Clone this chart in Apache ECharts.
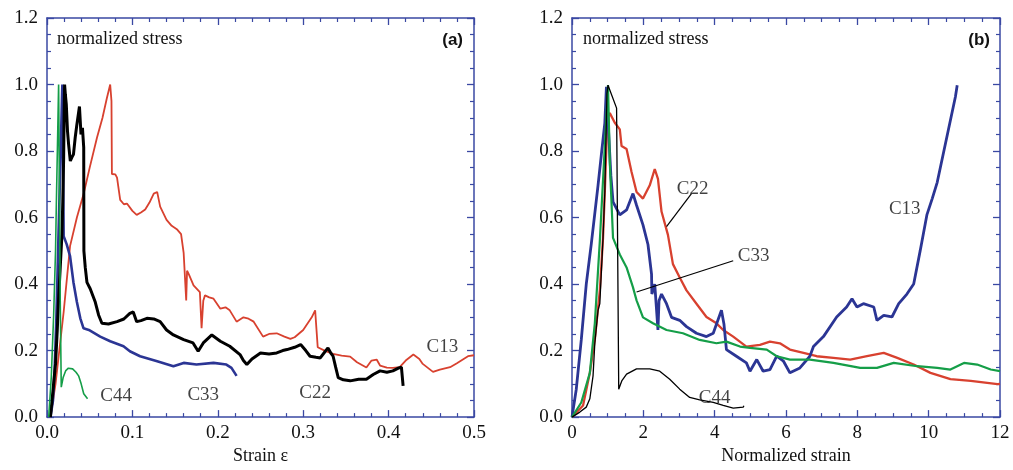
<!DOCTYPE html>
<html><head><meta charset="utf-8">
<script src="https://cdn.jsdelivr.net/npm/echarts@6/dist/echarts.min.js"></script>
<style>html,body{margin:0;padding:0;background:#fff}#c{width:1013px;height:470px}</style>
</head><body><div id="c"></div>
<script>
// ---------- Panel (a): stress vs strain ----------
const aC13 = [[0.004,0],[0.01,0.1],[0.0195,0.316],[0.027,0.514],[0.035,0.6],[0.043,0.672],[0.05,0.75],[0.0585,0.84],[0.065,0.9],[0.07,0.958],[0.074,1.0],[0.0755,0.95],[0.076,0.731],[0.08,0.73],[0.082,0.72],[0.0857,0.653],[0.09,0.64],[0.0936,0.642],[0.1,0.62],[0.105,0.608],[0.11,0.615],[0.115,0.624],[0.12,0.645],[0.125,0.672],[0.129,0.677],[0.1325,0.633],[0.14,0.593],[0.146,0.575],[0.152,0.565],[0.157,0.55],[0.16,0.494],[0.162,0.49],[0.163,0.351],[0.164,0.44],[0.166,0.43],[0.1716,0.396],[0.179,0.376],[0.181,0.267],[0.183,0.35],[0.185,0.366],[0.19,0.36],[0.195,0.356],[0.203,0.326],[0.209,0.33],[0.214,0.321],[0.222,0.287],[0.23,0.30],[0.236,0.296],[0.242,0.287],[0.253,0.242],[0.26,0.25],[0.269,0.252],[0.278,0.242],[0.285,0.235],[0.29,0.24],[0.30,0.262],[0.31,0.3],[0.314,0.321],[0.316,0.316],[0.317,0.21],[0.325,0.2],[0.335,0.19],[0.345,0.185],[0.355,0.182],[0.363,0.165],[0.374,0.149],[0.38,0.17],[0.386,0.173],[0.39,0.155],[0.398,0.149],[0.405,0.148],[0.413,0.15],[0.42,0.17],[0.429,0.188],[0.436,0.175],[0.44,0.16],[0.452,0.136],[0.46,0.143],[0.472,0.15],[0.48,0.162],[0.493,0.183],[0.5,0.186]];
const aC22 = [[0.004,0],[0.007,0.08],[0.01,0.16],[0.012,0.26],[0.0136,0.357],[0.0155,0.45],[0.0175,0.55],[0.0185,0.65],[0.0195,0.78],[0.02,0.9],[0.0206,1.0],[0.0215,0.97],[0.0226,0.94],[0.024,0.86],[0.0253,0.82],[0.0273,0.77],[0.029,0.78],[0.031,0.79],[0.033,0.84],[0.035,0.88],[0.038,0.934],[0.0398,0.85],[0.0415,0.87],[0.0428,0.875],[0.043,0.81],[0.0432,0.5],[0.0448,0.45],[0.0468,0.405],[0.0506,0.386],[0.0565,0.346],[0.0604,0.307],[0.0643,0.282],[0.072,0.28],[0.082,0.287],[0.09,0.295],[0.097,0.312],[0.101,0.316],[0.105,0.287],[0.11,0.29],[0.117,0.297],[0.125,0.295],[0.1325,0.287],[0.14,0.262],[0.148,0.247],[0.16,0.233],[0.171,0.223],[0.177,0.198],[0.179,0.194],[0.183,0.223],[0.193,0.247],[0.203,0.228],[0.214,0.213],[0.226,0.188],[0.23,0.17],[0.234,0.158],[0.24,0.175],[0.25,0.193],[0.26,0.19],[0.269,0.193],[0.276,0.2],[0.281,0.203],[0.29,0.21],[0.297,0.218],[0.303,0.2],[0.308,0.183],[0.315,0.18],[0.32,0.178],[0.325,0.195],[0.329,0.208],[0.333,0.19],[0.335,0.183],[0.338,0.15],[0.341,0.119],[0.347,0.112],[0.355,0.109],[0.365,0.114],[0.374,0.114],[0.382,0.128],[0.39,0.139],[0.398,0.135],[0.405,0.139],[0.412,0.148],[0.415,0.15],[0.417,0.094]];
const aC33 = [[0.004,0],[0.007,0.05],[0.009,0.15],[0.011,0.3],[0.013,0.5],[0.015,0.7],[0.0165,0.85],[0.0175,0.95],[0.018,1.0],[0.0188,0.8],[0.0195,0.544],[0.023,0.52],[0.027,0.484],[0.031,0.405],[0.035,0.346],[0.039,0.297],[0.0428,0.267],[0.049,0.262],[0.0623,0.242],[0.074,0.228],[0.0896,0.213],[0.097,0.198],[0.109,0.183],[0.129,0.168],[0.148,0.153],[0.16,0.163],[0.175,0.158],[0.195,0.163],[0.21,0.158],[0.216,0.148],[0.222,0.124]];
const aC44 = [[0.002,0],[0.005,0.12],[0.0078,0.307],[0.01,0.5],[0.011,0.65],[0.0125,0.85],[0.0136,1.0],[0.0145,0.7],[0.0155,0.35],[0.0167,0.09],[0.019,0.12],[0.022,0.14],[0.025,0.147],[0.03,0.145],[0.034,0.135],[0.037,0.124],[0.04,0.1],[0.043,0.07],[0.0475,0.055]];
const aLabels = [['C44',0.081,0.064],['C33',0.183,0.066],['C22',0.314,0.072],['C13',0.463,0.212]];

// ---------- Panel (b): stress vs normalized strain ----------
const bC13 = [[0,0],[0.12,0.084],[0.26,0.232],[0.4,0.4],[0.54,0.52],[0.73,0.697],[0.82,0.786],[0.92,0.884],[0.965,0.993],[1.03,0.85],[1.09,0.726],[1.15,0.647],[1.34,0.608],[1.53,0.623],[1.71,0.672],[1.81,0.637],[1.99,0.578],[2.13,0.519],[2.23,0.43],[2.24,0.37],[2.32,0.40],[2.41,0.262],[2.44,0.35],[2.51,0.37],[2.65,0.341],[2.79,0.30],[3.02,0.291],[3.21,0.272],[3.49,0.252],[3.77,0.242],[3.96,0.252],[4.19,0.321],[4.26,0.28],[4.33,0.203],[4.61,0.183],[4.89,0.163],[4.99,0.138],[5.18,0.173],[5.36,0.138],[5.55,0.143],[5.74,0.183],[5.93,0.168],[6.11,0.133],[6.39,0.148],[6.67,0.183],[6.77,0.212],[7.05,0.242],[7.42,0.301],[7.7,0.331],[7.85,0.356],[7.99,0.331],[8.17,0.341],[8.46,0.331],[8.55,0.291],[8.74,0.306],[8.97,0.301],[9.16,0.341],[9.39,0.37],[9.58,0.40],[9.76,0.499],[9.95,0.608],[10.1,0.657],[10.24,0.706],[10.75,0.963],[10.8,0.998]];
const bC22 = [[0,0],[0.31,0.035],[0.5,0.133],[0.64,0.232],[0.78,0.38],[0.87,0.539],[0.92,0.677],[0.98,0.865],[1.01,0.904],[1.06,0.914],[1.2,0.885],[1.34,0.865],[1.39,0.815],[1.53,0.806],[1.67,0.737],[1.81,0.677],[1.99,0.657],[2.18,0.697],[2.32,0.746],[2.41,0.716],[2.51,0.618],[2.69,0.548],[2.83,0.46],[3.02,0.42],[3.21,0.381],[3.49,0.341],[3.77,0.301],[4.05,0.282],[4.24,0.262],[4.52,0.242],[4.89,0.212],[5.27,0.217],[5.55,0.227],[5.83,0.222],[6.11,0.203],[6.49,0.193],[6.86,0.183],[7.33,0.178],[7.8,0.173],[8.27,0.183],[8.74,0.193],[9.12,0.178],[9.58,0.158],[10.05,0.133],[10.61,0.114],[11.18,0.109],[11.93,0.099],[12,0.1]];
const bC33 = [[0,0],[0.26,0.044],[0.5,0.133],[0.64,0.282],[0.78,0.529],[0.92,0.815],[1.01,0.998],[1.06,0.766],[1.15,0.539],[1.34,0.489],[1.53,0.45],[1.71,0.39],[1.81,0.351],[1.99,0.30],[2.27,0.282],[2.65,0.262],[3.11,0.252],[3.58,0.232],[4.05,0.222],[4.33,0.227],[4.71,0.212],[4.99,0.208],[5.46,0.203],[5.74,0.183],[6.11,0.173],[6.67,0.173],[7.33,0.163],[8.08,0.148],[8.55,0.148],[9.02,0.163],[9.68,0.153],[10.24,0.148],[10.61,0.143],[10.99,0.163],[11.36,0.158],[11.74,0.143],[12,0.138]];
const bC44 = [[0,0],[0.22,0.015],[0.4,0.03],[0.5,0.055],[0.59,0.124],[0.64,0.222],[0.73,0.321],[0.78,0.341],[0.87,0.539],[0.92,0.677],[0.98,0.973],[1.01,0.998],[1.25,0.929],[1.3,0.929],[1.31,0.084],[1.4,0.11],[1.53,0.129],[1.81,0.145],[2.18,0.145],[2.46,0.138],[2.74,0.114],[3.02,0.084],[3.3,0.059],[3.58,0.052],[3.96,0.044],[4.24,0.035],[4.52,0.027],[4.8,0.03],[4.82,0.034]];
const bLabels = [['C22',3.38,0.685],['C13',9.33,0.625],['C33',5.09,0.485],['C44',4.0,0.057]];
const bLeaderC22 = [[3.35,0.672],[2.65,0.573]];
const bLeaderC33 = [[4.52,0.47],[1.81,0.376]];

const AX = '#3a48a3';
const COL = {red:'#d8412f', blue:'#2b3594', green:'#159e48', black:'#000000'};
const SERIF = '"Liberation Serif","DejaVu Serif",serif';

function xAxisPair(gi, max, interval, split, name, decimals){
  const base = {gridIndex:gi, type:'value', min:0, max:max, interval:interval,
    axisLine:{show:true, onZero:false, lineStyle:{color:AX, width:1.5}},
    axisTick:{show:true, inside:true, length:7, lineStyle:{color:AX, width:1.3}},
    minorTick:{show:true, splitNumber:split, length:4, lineStyle:{color:AX, width:1.2}},
    splitLine:{show:false}};
  return [
    Object.assign({}, base, {position:'bottom', name:name, nameLocation:'middle', nameGap:24,
      nameTextStyle:{fontFamily:SERIF, fontSize:18, color:'#111'},
      axisLabel:{show:true, margin:6, fontFamily:SERIF, fontSize:19, color:'#111',
        formatter:v=>decimals? v.toFixed(decimals): String(v)}}),
    Object.assign({}, base, {position:'top', axisLabel:{show:false}})
  ];
}
function yAxisPair(gi){
  const base = {gridIndex:gi, type:'value', min:0, max:1.2, interval:0.2,
    axisLine:{show:true, onZero:false, lineStyle:{color:AX, width:1.5}},
    axisTick:{show:true, inside:true, length:7, lineStyle:{color:AX, width:1.3}},
    minorTick:{show:true, splitNumber:4, length:4, lineStyle:{color:AX, width:1.2}},
    splitLine:{show:false}};
  return [
    Object.assign({}, base, {position:'left',
      axisLabel:{show:true, margin:9, fontFamily:SERIF, fontSize:19, color:'#111',
        formatter:v=>v.toFixed(1)}}),
    Object.assign({}, base, {position:'right', axisLabel:{show:false}})
  ];
}

function curve(xi, yi, data, color, w){
  return {type:'line', xAxisIndex:xi, yAxisIndex:yi, data:data, showSymbol:false, symbol:'none',
    lineStyle:{color:color, width:w}, z:3, silent:true};
}
function labels(xi, yi, arr){
  return {type:'scatter', xAxisIndex:xi, yAxisIndex:yi, symbolSize:1, silent:true, z:5,
    itemStyle:{color:'rgba(0,0,0,0)'},
    data:arr.map(d=>({name:d[0], value:[d[1], d[2]]})),
    label:{show:true, position:'inside', formatter:'{b}', fontFamily:SERIF, fontSize:19, color:'#111'}};
}
function leader(xi, yi, data){
  return {type:'line', xAxisIndex:xi, yAxisIndex:yi, data:data, showSymbol:false, symbol:'none',
    lineStyle:{color:'#000', width:1.2}, z:4, silent:true};
}

const xa = xAxisPair(0, 0.5, 0.1, 5, 'Strain ε', 1);
const xb = xAxisPair(1, 12, 2, 4, 'Normalized strain', 0);
const ya = yAxisPair(0);
const yb = yAxisPair(1);

const option = {
  animation:false,
  backgroundColor:'#fff',
  grid:[{left:47, right:539, top:18, bottom:47},{left:572, right:13, top:18, bottom:48}],
  xAxis:[xa[0], xa[1], xb[0], xb[1]],
  yAxis:[ya[0], ya[1], yb[0], yb[1]],
  graphic:[
    {type:'text', left:57, top:30, style:{text:'normalized stress', font:'18px '+SERIF, fill:'#111'}},
    {type:'text', right:550, top:32, style:{text:'(a)', font:'bold 17px "Liberation Sans",Arial,sans-serif', fill:'#111'}},
    {type:'text', left:583, top:30, style:{text:'normalized stress', font:'18px '+SERIF, fill:'#111'}},
    {type:'text', right:23, top:32, style:{text:'(b)', font:'bold 17px "Liberation Sans",Arial,sans-serif', fill:'#111'}}
  ],
  series:[
    curve(0,0,aC13,COL.red,1.8),
    curve(0,0,aC33,COL.blue,2.6),
    curve(0,0,aC22,COL.black,3),
    curve(0,0,aC44,COL.green,1.6),
    labels(0,0,aLabels),
    curve(2,2,bC22,COL.red,2.3),
    curve(2,2,bC13,COL.blue,2.8),
    curve(2,2,bC33,COL.green,2.2),
    curve(2,2,bC44,COL.black,1.3),
    leader(2,2,bLeaderC22),
    leader(2,2,bLeaderC33),
    labels(2,2,bLabels)
  ]
};
const chart = echarts.init(document.getElementById('c'), null, {renderer:'canvas'});
chart.setOption(option);
</script></body></html>
